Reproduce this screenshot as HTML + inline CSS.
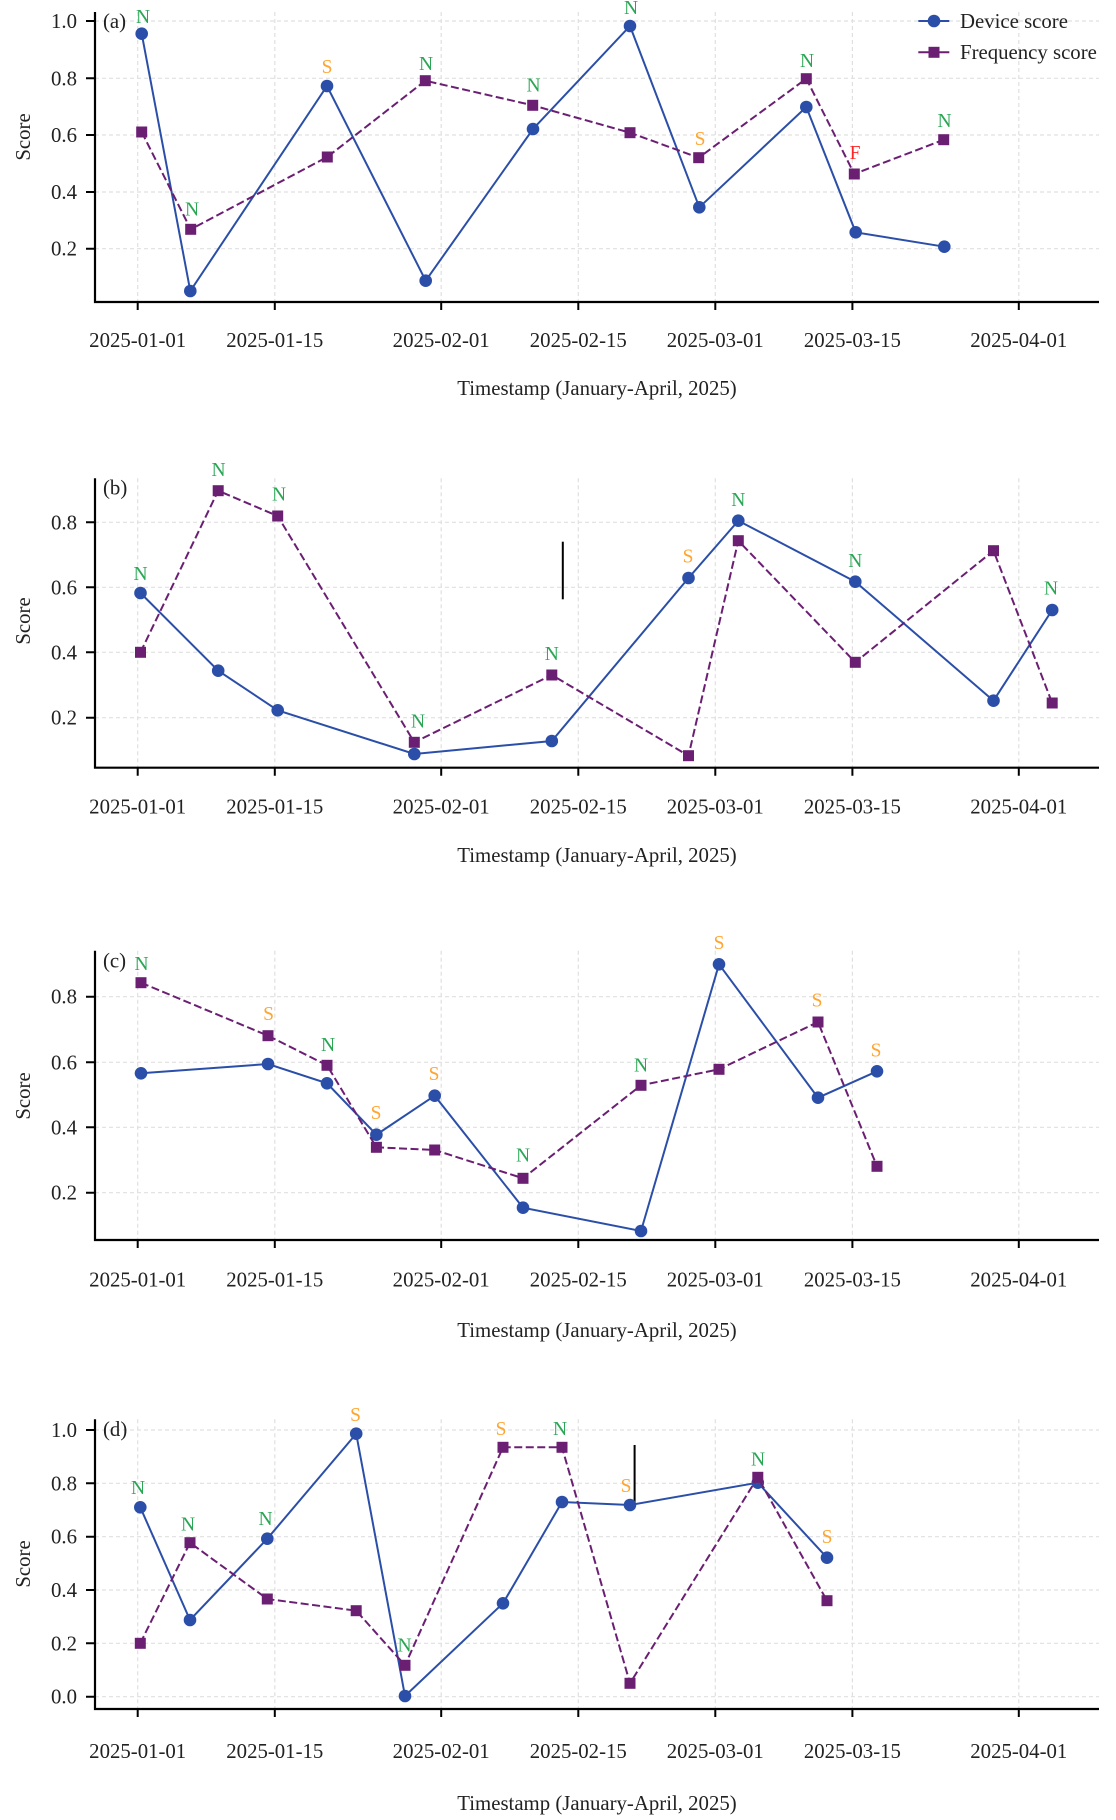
<!DOCTYPE html>
<html><head><meta charset="utf-8"><style>
html,body{margin:0;padding:0;background:#fff;}
svg{display:block;}
text{font-family:"Liberation Serif",serif;fill:#222;}
.tk{font-size:20.8px;}
.lab{font-size:19.5px;text-anchor:middle;}
.g{stroke:#e0e0e0;stroke-width:1.2;stroke-dasharray:4,3;fill:none;}
.sp{stroke:#000;stroke-width:2.2;fill:none;}
.tkl{stroke:#000;stroke-width:2;}
.dev{stroke:#2b4fa8;stroke-width:2;fill:none;}
.frq{stroke:#6b1f73;stroke-width:2;fill:none;stroke-dasharray:8,3.5;}
.dc{fill:#2b4fa8;}
.fs{fill:#6b1f73;}
.N{fill:#2aa655;} .S{fill:#ffa530;} .F{fill:#ff2525;}
</style></head><body>
<svg width="1116" height="1820" viewBox="0 0 1116 1820" xmlns="http://www.w3.org/2000/svg">

<!-- ================= PANEL A ================= -->
<g>
<path class="g" d="M95,21H1099M95,78.3H1099M95,135H1099M95,192H1099M95,248.7H1099"/>
<path class="g" d="M137.7,12V302M274.8,12V302M441.2,12V302M578.3,12V302M715.3,12V302M852.4,12V302M1018.8,12V302"/>
<path class="sp" d="M95,12V302H1099"/>
<path class="tkl" d="M137.7,302v8M274.8,302v8M441.2,302v8M578.3,302v8M715.3,302v8M852.4,302v8M1018.8,302v8M86,21h9M86,78.3h9M86,135h9M86,192h9M86,248.7h9"/>
<g class="tk" text-anchor="end">
<text x="77" y="28">1.0</text><text x="77" y="85.3">0.8</text><text x="77" y="142">0.6</text><text x="77" y="199">0.4</text><text x="77" y="255.7">0.2</text>
</g>
<g class="tk" text-anchor="middle">
<text x="137.7" y="347">2025-01-01</text><text x="274.8" y="347">2025-01-15</text><text x="441.2" y="347">2025-02-01</text><text x="578.3" y="347">2025-02-15</text><text x="715.3" y="347">2025-03-01</text><text x="852.4" y="347">2025-03-15</text><text x="1018.8" y="347">2025-04-01</text>
<text x="597" y="395">Timestamp (January-April, 2025)</text>
</g>
<text class="tk" transform="translate(30,137) rotate(-90)" text-anchor="middle">Score</text>
<text class="tk" x="103" y="28">(a)</text>
<path class="dev" d="M141.7,33.7L190.3,291L327,86L425.7,280.7L533,129L630,26L699.3,207.3L806.3,107L855.7,232.3L944.3,246.7"/>
<g class="dc"><circle cx="141.7" cy="33.7" r="6.3"/><circle cx="190.3" cy="291" r="6.3"/><circle cx="327" cy="86" r="6.3"/><circle cx="425.7" cy="280.7" r="6.3"/><circle cx="533" cy="129" r="6.3"/><circle cx="630" cy="26" r="6.3"/><circle cx="699.3" cy="207.3" r="6.3"/><circle cx="806.3" cy="107" r="6.3"/><circle cx="855.7" cy="232.3" r="6.3"/><circle cx="944.3" cy="246.7" r="6.3"/></g>
<path class="frq" d="M141.7,132L190.7,229.3L327.3,157L425.3,80.7L532.7,105.3L630,132.7L698.7,157.7L806.3,78.7L854.3,174L943.7,139.7"/>
<g class="fs"><rect x="136.2" y="126.5" width="11" height="11"/><rect x="185.2" y="223.8" width="11" height="11"/><rect x="321.8" y="151.5" width="11" height="11"/><rect x="419.8" y="75.2" width="11" height="11"/><rect x="527.2" y="99.8" width="11" height="11"/><rect x="624.5" y="127.2" width="11" height="11"/><rect x="693.2" y="152.2" width="11" height="11"/><rect x="800.8" y="73.2" width="11" height="11"/><rect x="848.8" y="168.5" width="11" height="11"/><rect x="938.2" y="134.2" width="11" height="11"/></g>
<g class="lab">
<text class="N" x="143" y="23">N</text><text class="N" x="192" y="215.5">N</text><text class="S" x="327" y="73">S</text><text class="N" x="426" y="70">N</text><text class="N" x="533.5" y="91.5">N</text><text class="N" x="631" y="13.8">N</text><text class="S" x="700" y="145">S</text><text class="N" x="807" y="67">N</text><text class="F" x="855" y="159">F</text><text class="N" x="944.5" y="127">N</text>
</g>
<line x1="918.3" y1="21" x2="949.3" y2="21" stroke="#2b4fa8" stroke-width="2"/>
<circle class="dc" cx="934" cy="21" r="6.3"/>
<text class="tk" x="960" y="28">Device score</text>
<line x1="918.3" y1="52.3" x2="949.3" y2="52.3" stroke="#6b1f73" stroke-width="2"/>
<rect class="fs" x="928.5" y="46.8" width="11" height="11"/>
<text class="tk" x="960" y="59">Frequency score</text>
</g>

<!-- ================= PANEL B ================= -->
<g>
<path class="g" d="M95,522.3H1099M95,587.3H1099M95,652.3H1099M95,717.7H1099"/>
<path class="g" d="M137.7,478.3V767.7M274.8,478.3V767.7M441.2,478.3V767.7M578.3,478.3V767.7M715.3,478.3V767.7M852.4,478.3V767.7M1018.8,478.3V767.7"/>
<path class="sp" d="M95,478.3V767.7H1099"/>
<path class="tkl" d="M137.7,767.7v8M274.8,767.7v8M441.2,767.7v8M578.3,767.7v8M715.3,767.7v8M852.4,767.7v8M1018.8,767.7v8M86,522.3h9M86,587.3h9M86,652.3h9M86,717.7h9"/>
<g class="tk" text-anchor="end">
<text x="77" y="529.3">0.8</text><text x="77" y="594.3">0.6</text><text x="77" y="659.3">0.4</text><text x="77" y="724.7">0.2</text>
</g>
<g class="tk" text-anchor="middle">
<text x="137.7" y="813.7">2025-01-01</text><text x="274.8" y="813.7">2025-01-15</text><text x="441.2" y="813.7">2025-02-01</text><text x="578.3" y="813.7">2025-02-15</text><text x="715.3" y="813.7">2025-03-01</text><text x="852.4" y="813.7">2025-03-15</text><text x="1018.8" y="813.7">2025-04-01</text>
<text x="597" y="862">Timestamp (January-April, 2025)</text>
</g>
<text class="tk" transform="translate(30,621) rotate(-90)" text-anchor="middle">Score</text>
<text class="tk" x="103" y="494.5">(b)</text>
<line x1="562.8" y1="541.7" x2="562.8" y2="599.3" stroke="#000" stroke-width="2"/>
<path class="dev" d="M140.5,593L218.2,670.7L277.7,710.3L414.3,754L551.8,741L688.5,578L738.3,520.7L855.3,581.7L993.5,700.7L1052.2,610"/>
<g class="dc"><circle cx="140.5" cy="593" r="6.3"/><circle cx="218.2" cy="670.7" r="6.3"/><circle cx="277.7" cy="710.3" r="6.3"/><circle cx="414.3" cy="754" r="6.3"/><circle cx="551.8" cy="741" r="6.3"/><circle cx="688.5" cy="578" r="6.3"/><circle cx="738.3" cy="520.7" r="6.3"/><circle cx="855.3" cy="581.7" r="6.3"/><circle cx="993.5" cy="700.7" r="6.3"/><circle cx="1052.2" cy="610" r="6.3"/></g>
<path class="frq" d="M140.5,652.3L218.2,490.7L277.7,516L414.3,742.3L551.8,675L688.5,755.7L738.3,540.7L855.3,662.3L993.5,550.7L1052.2,703"/>
<g class="fs"><rect x="135" y="646.8" width="11" height="11"/><rect x="212.7" y="485.2" width="11" height="11"/><rect x="272.2" y="510.5" width="11" height="11"/><rect x="408.8" y="736.8" width="11" height="11"/><rect x="546.3" y="669.5" width="11" height="11"/><rect x="683" y="750.2" width="11" height="11"/><rect x="732.8" y="535.2" width="11" height="11"/><rect x="849.8" y="656.8" width="11" height="11"/><rect x="988" y="545.2" width="11" height="11"/><rect x="1046.7" y="697.5" width="11" height="11"/></g>
<g class="lab">
<text class="N" x="140.5" y="579.8">N</text><text class="N" x="218.5" y="475.8">N</text><text class="N" x="279" y="500.5">N</text><text class="N" x="418" y="727.5">N</text><text class="N" x="551.8" y="659.8">N</text><text class="S" x="688" y="562.5">S</text><text class="N" x="738.3" y="505.8">N</text><text class="N" x="855.3" y="567.2">N</text><text class="N" x="1051" y="594.5">N</text>
</g>
</g>

<!-- ================= PANEL C ================= -->
<g>
<path class="g" d="M95,996.7H1099M95,1062.3H1099M95,1127.3H1099M95,1192.7H1099"/>
<path class="g" d="M137.7,950.7V1240M274.8,950.7V1240M441.2,950.7V1240M578.3,950.7V1240M715.3,950.7V1240M852.4,950.7V1240M1018.8,950.7V1240"/>
<path class="sp" d="M95,950.7V1240H1099"/>
<path class="tkl" d="M137.7,1240v8M274.8,1240v8M441.2,1240v8M578.3,1240v8M715.3,1240v8M852.4,1240v8M1018.8,1240v8M86,996.7h9M86,1062.3h9M86,1127.3h9M86,1192.7h9"/>
<g class="tk" text-anchor="end">
<text x="77" y="1003.7">0.8</text><text x="77" y="1069.3">0.6</text><text x="77" y="1134.3">0.4</text><text x="77" y="1199.7">0.2</text>
</g>
<g class="tk" text-anchor="middle">
<text x="137.7" y="1286.3">2025-01-01</text><text x="274.8" y="1286.3">2025-01-15</text><text x="441.2" y="1286.3">2025-02-01</text><text x="578.3" y="1286.3">2025-02-15</text><text x="715.3" y="1286.3">2025-03-01</text><text x="852.4" y="1286.3">2025-03-15</text><text x="1018.8" y="1286.3">2025-04-01</text>
<text x="597" y="1337">Timestamp (January-April, 2025)</text>
</g>
<text class="tk" transform="translate(30,1096) rotate(-90)" text-anchor="middle">Score</text>
<text class="tk" x="103" y="967.5">(c)</text>
<path class="dev" d="M141,1073.3L268,1064L327,1083.3L376.4,1134.7L434.7,1095.7L523,1207.7L641,1231L719,964.3L818,1097.7L877,1071.3"/>
<g class="dc"><circle cx="141" cy="1073.3" r="6.3"/><circle cx="268" cy="1064" r="6.3"/><circle cx="327" cy="1083.3" r="6.3"/><circle cx="376.4" cy="1134.7" r="6.3"/><circle cx="434.7" cy="1095.7" r="6.3"/><circle cx="523" cy="1207.7" r="6.3"/><circle cx="641" cy="1231" r="6.3"/><circle cx="719" cy="964.3" r="6.3"/><circle cx="818" cy="1097.7" r="6.3"/><circle cx="877" cy="1071.3" r="6.3"/></g>
<path class="frq" d="M141,982.7L268,1035.7L327,1065.3L376.4,1147.3L434.7,1150L523,1178.3L641,1085.3L719,1069.3L818,1022L877,1166.3"/>
<g class="fs"><rect x="135.5" y="977.2" width="11" height="11"/><rect x="262.5" y="1030.2" width="11" height="11"/><rect x="321.5" y="1059.8" width="11" height="11"/><rect x="370.9" y="1141.8" width="11" height="11"/><rect x="429.2" y="1144.5" width="11" height="11"/><rect x="517.5" y="1172.8" width="11" height="11"/><rect x="635.5" y="1079.8" width="11" height="11"/><rect x="713.5" y="1063.8" width="11" height="11"/><rect x="812.5" y="1016.5" width="11" height="11"/><rect x="871.5" y="1160.8" width="11" height="11"/></g>
<g class="lab">
<text class="N" x="141.5" y="969.8">N</text><text class="S" x="268.5" y="1019.8">S</text><text class="N" x="328" y="1050.8">N</text><text class="S" x="376" y="1118.8">S</text><text class="S" x="434" y="1079.8">S</text><text class="N" x="523" y="1161.5">N</text><text class="N" x="641" y="1071.5">N</text><text class="S" x="719" y="949.2">S</text><text class="S" x="817" y="1006.5">S</text><text class="S" x="876" y="1056.5">S</text>
</g>
</g>

<!-- ================= PANEL D ================= -->
<g>
<path class="g" d="M95,1430H1099M95,1483.3H1099M95,1536.7H1099M95,1590H1099M95,1643.3H1099M95,1696.7H1099"/>
<path class="g" d="M137.7,1419.3V1709M274.8,1419.3V1709M441.2,1419.3V1709M578.3,1419.3V1709M715.3,1419.3V1709M852.4,1419.3V1709M1018.8,1419.3V1709"/>
<path class="sp" d="M95,1419.3V1709H1099"/>
<path class="tkl" d="M137.7,1709v8M274.8,1709v8M441.2,1709v8M578.3,1709v8M715.3,1709v8M852.4,1709v8M1018.8,1709v8M86,1430h9M86,1483.3h9M86,1536.7h9M86,1590h9M86,1643.3h9M86,1696.7h9"/>
<g class="tk" text-anchor="end">
<text x="77" y="1437">1.0</text><text x="77" y="1490.3">0.8</text><text x="77" y="1543.7">0.6</text><text x="77" y="1597">0.4</text><text x="77" y="1650.3">0.2</text><text x="77" y="1703.7">0.0</text>
</g>
<g class="tk" text-anchor="middle">
<text x="137.7" y="1758">2025-01-01</text><text x="274.8" y="1758">2025-01-15</text><text x="441.2" y="1758">2025-02-01</text><text x="578.3" y="1758">2025-02-15</text><text x="715.3" y="1758">2025-03-01</text><text x="852.4" y="1758">2025-03-15</text><text x="1018.8" y="1758">2025-04-01</text>
<text x="597" y="1810">Timestamp (January-April, 2025)</text>
</g>
<text class="tk" transform="translate(30,1564) rotate(-90)" text-anchor="middle">Score</text>
<text class="tk" x="103" y="1436">(d)</text>
<line x1="634.6" y1="1445" x2="634.6" y2="1504" stroke="#000" stroke-width="2"/>
<path class="dev" d="M140.3,1507.3L190,1620L267.3,1538.7L356.2,1433.7L405,1696L503,1603.3L562,1502L630,1505L757.8,1482.7L827,1557.7"/>
<g class="dc"><circle cx="140.3" cy="1507.3" r="6.3"/><circle cx="190" cy="1620" r="6.3"/><circle cx="267.3" cy="1538.7" r="6.3"/><circle cx="356.2" cy="1433.7" r="6.3"/><circle cx="405" cy="1696" r="6.3"/><circle cx="503" cy="1603.3" r="6.3"/><circle cx="562" cy="1502" r="6.3"/><circle cx="630" cy="1505" r="6.3"/><circle cx="757.8" cy="1482.7" r="6.3"/><circle cx="827" cy="1557.7" r="6.3"/></g>
<path class="frq" d="M140.3,1643.3L190,1542.7L267.3,1599L356.2,1610.7L405,1665.3L503,1447.3L562,1447.3L630,1683.3L757.8,1477.3L827,1600.7"/>
<g class="fs"><rect x="134.8" y="1637.8" width="11" height="11"/><rect x="184.5" y="1537.2" width="11" height="11"/><rect x="261.8" y="1593.5" width="11" height="11"/><rect x="350.7" y="1605.2" width="11" height="11"/><rect x="399.5" y="1659.8" width="11" height="11"/><rect x="497.5" y="1441.8" width="11" height="11"/><rect x="556.5" y="1441.8" width="11" height="11"/><rect x="624.5" y="1677.8" width="11" height="11"/><rect x="752.3" y="1471.8" width="11" height="11"/><rect x="821.5" y="1595.2" width="11" height="11"/></g>
<g class="lab">
<text class="N" x="138" y="1493.8">N</text><text class="N" x="188" y="1530.5">N</text><text class="N" x="265.5" y="1525.2">N</text><text class="S" x="355.5" y="1420.8">S</text><text class="N" x="404.5" y="1651.5">N</text><text class="S" x="501" y="1434.8">S</text><text class="N" x="560" y="1434.8">N</text><text class="S" x="626" y="1491.8">S</text><text class="N" x="758" y="1465.5">N</text><text class="S" x="827" y="1543.2">S</text>
</g>
</g>
</svg>
</body></html>
